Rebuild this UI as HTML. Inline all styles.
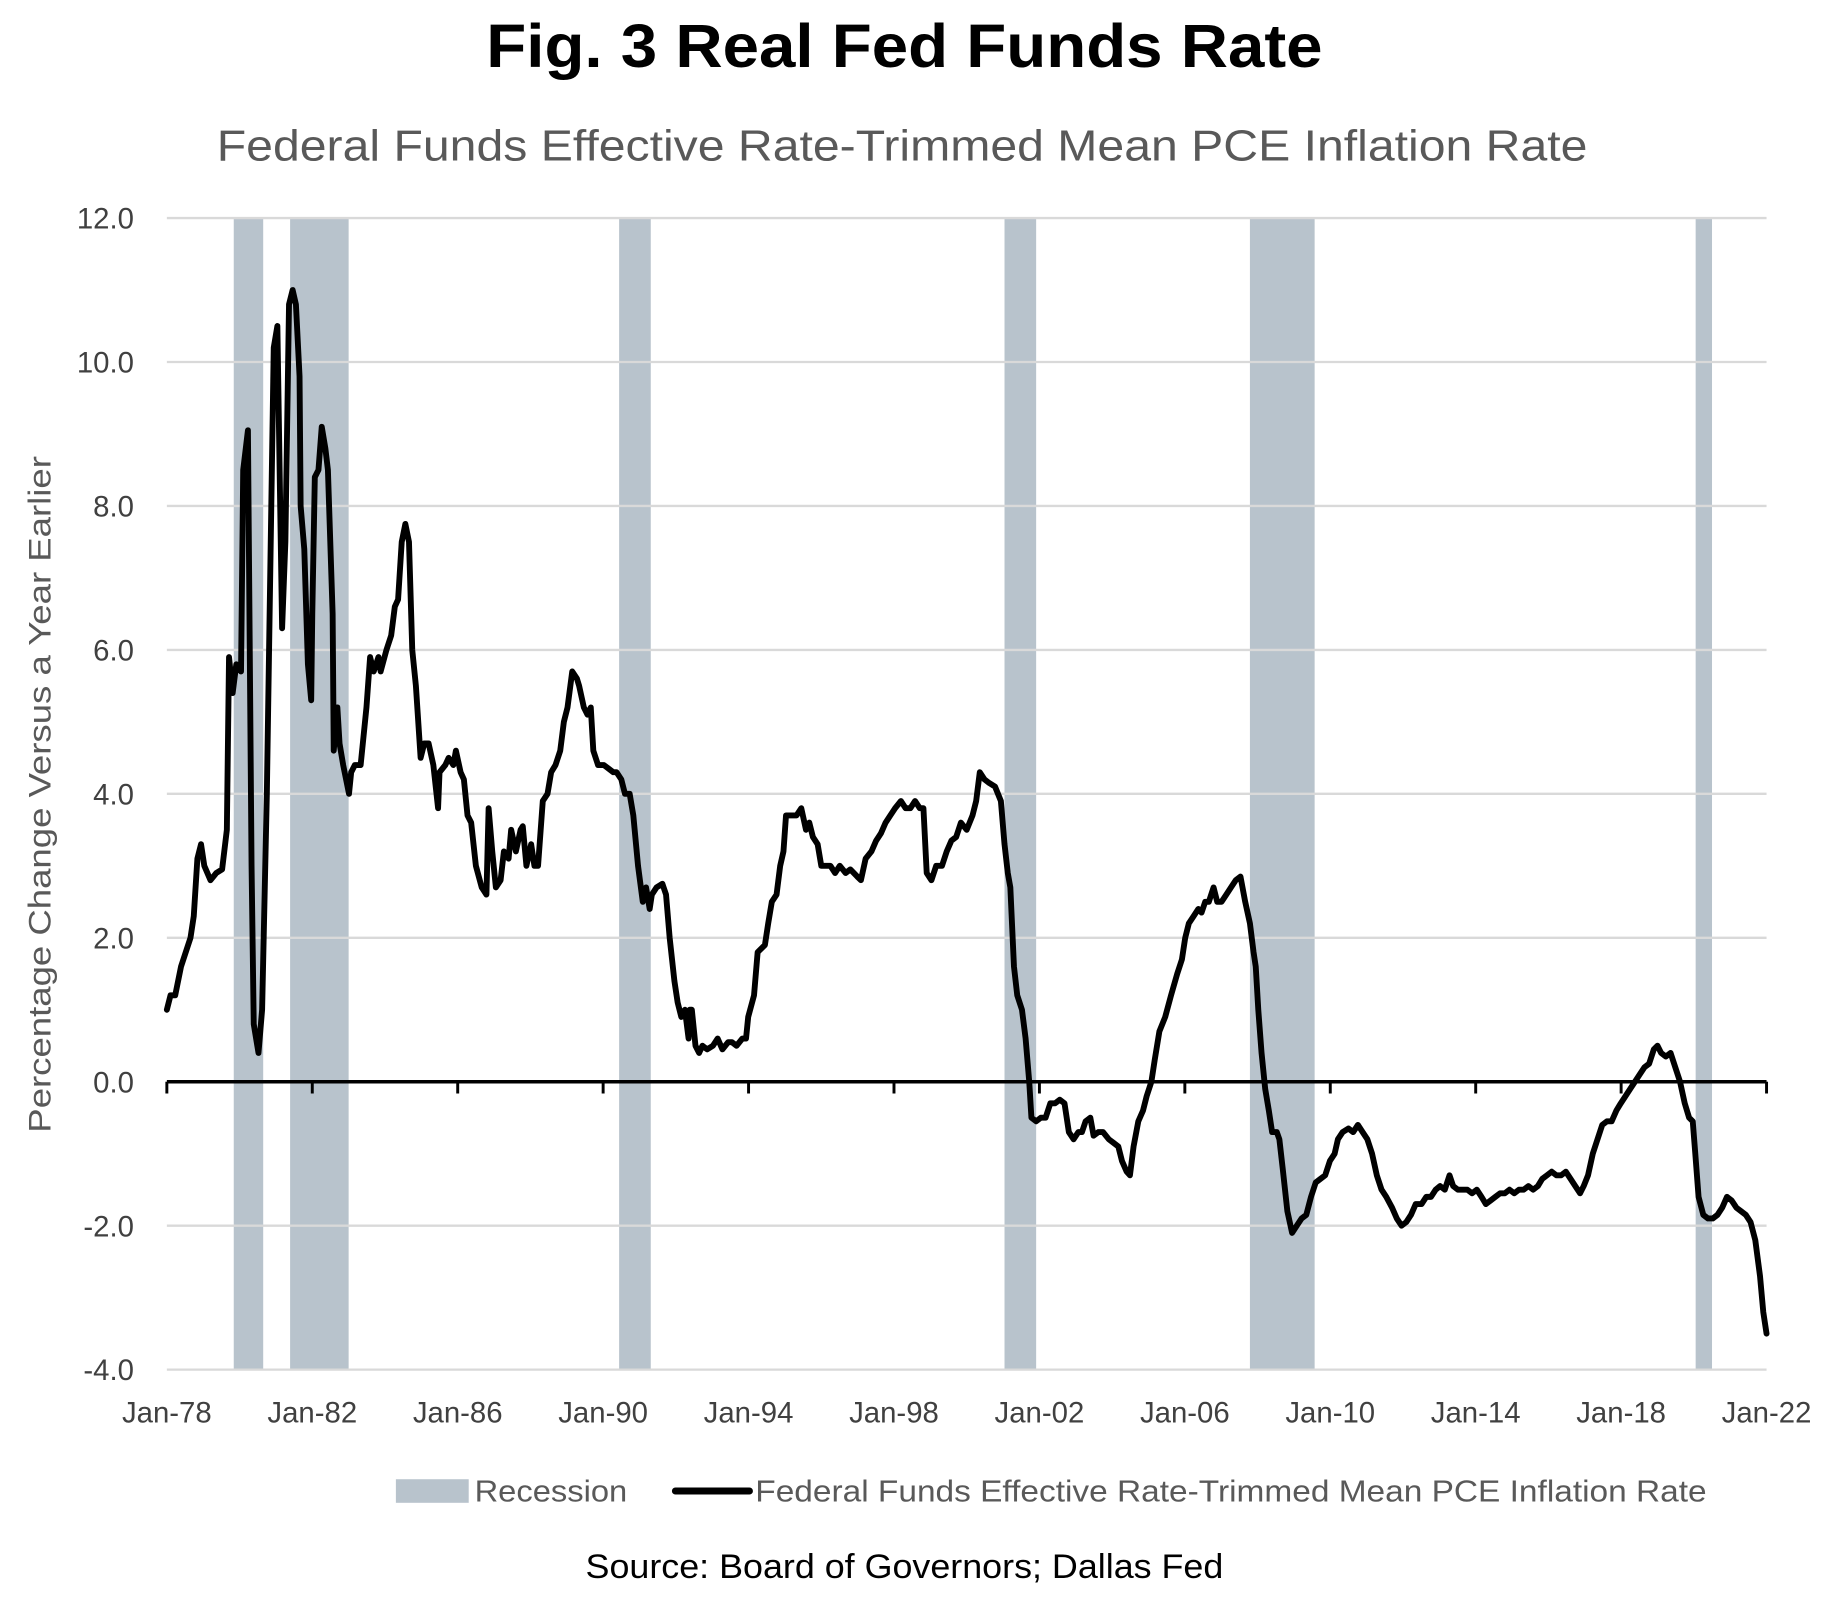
<!DOCTYPE html>
<html><head><meta charset="utf-8"><style>
html,body{margin:0;padding:0;background:#fff;}
svg{display:block;font-family:"Liberation Sans",sans-serif;}
</style></head><body>
<svg id="chart" width="1845" height="1602" viewBox="0 0 1552 1348" xmlns="http://www.w3.org/2000/svg">
<rect x="0" y="0" width="1552" height="1348" fill="#fff"/>
<g transform="translate(1.8,-1) scale(0.9883,0.9918)">
<text x="768" y="58" text-anchor="middle" font-size="52" font-weight="bold" fill="#000" textLength="712" lengthAdjust="spacingAndGlyphs">Fig. 3 Real Fed Funds Rate</text>
<text x="766" y="137" text-anchor="middle" font-size="37" fill="#595959" textLength="1167" lengthAdjust="spacingAndGlyphs">Federal Funds Effective Rate-Trimmed Mean PCE Inflation Rate</text>
<text transform="translate(41,675) rotate(-90)" text-anchor="middle" font-size="27" fill="#595959" textLength="574" lengthAdjust="spacingAndGlyphs">Percentage Change Versus a Year Earlier</text>
<g id="recessions"></g>
<g id="grid"></g>
<g id="zero"></g>
<g id="series"></g>
<g id="labels"></g>
<g>
<rect x="335" y="1256" width="62" height="20" fill="#b8c3cc"/>
<text x="402" y="1275" font-size="26" fill="#595959" textLength="130" lengthAdjust="spacingAndGlyphs">Recession</text>
<line x1="573" y1="1266" x2="636" y2="1266" stroke="#000" stroke-width="6" stroke-linecap="round"/>
<text x="641" y="1275" font-size="26" fill="#595959" textLength="810" lengthAdjust="spacingAndGlyphs">Federal Funds Effective Rate-Trimmed Mean PCE Inflation Rate</text>
</g>
<text x="768" y="1340" text-anchor="middle" font-size="29" fill="#000" textLength="543" lengthAdjust="spacingAndGlyphs">Source: Board of Governors; Dallas Fed</text>
</g>
</svg>
<script>
const yTicks = [12, 10, 8, 6, 4, 2, 0, -2, -4];
const yTickLabels = ["12.0","10.0","8.0","6.0","4.0","2.0","0.0","-2.0","-4.0"];
const xTickYears = [1978,1982,1986,1990,1994,1998,2002,2006,2010,2014,2018,2022];
const xTickLabels = ["Jan-78","Jan-82","Jan-86","Jan-90","Jan-94","Jan-98","Jan-02","Jan-06","Jan-10","Jan-14","Jan-18","Jan-22"];
const recessionStarts = [1979.84, 1981.39, 1990.44, 2001.04, 2007.79, 2020.05];
const recessionEnds = [1980.65, 1983.0, 1991.31, 2001.91, 2009.57, 2020.5];
const dates = [1978.00,1978.10,1978.23,1978.39,1978.65,1978.74,1978.84,1978.94,1979.03,1979.20,1979.36,1979.52,1979.65,1979.71,1979.81,1979.91,1980.04,1980.10,1980.23,1980.33,1980.39,1980.52,1980.62,1980.75,1980.94,1981.04,1981.17,1981.26,1981.36,1981.46,1981.55,1981.65,1981.68,1981.78,1981.88,1981.97,1982.00,1982.07,1982.17,1982.26,1982.36,1982.43,1982.56,1982.59,1982.69,1982.75,1982.85,1983.01,1983.07,1983.17,1983.33,1983.49,1983.59,1983.69,1983.82,1983.88,1984.04,1984.17,1984.27,1984.36,1984.46,1984.56,1984.66,1984.75,1984.85,1984.98,1985.08,1985.20,1985.33,1985.46,1985.50,1985.66,1985.75,1985.88,1985.95,1986.08,1986.17,1986.27,1986.37,1986.50,1986.66,1986.79,1986.85,1986.95,1987.05,1987.18,1987.27,1987.40,1987.47,1987.60,1987.73,1987.79,1987.89,1988.02,1988.11,1988.21,1988.34,1988.47,1988.57,1988.69,1988.82,1988.92,1989.02,1989.15,1989.28,1989.34,1989.47,1989.57,1989.66,1989.73,1989.86,1990.02,1990.15,1990.28,1990.37,1990.50,1990.60,1990.73,1990.83,1990.96,1991.09,1991.18,1991.28,1991.34,1991.47,1991.63,1991.73,1991.83,1991.96,1992.05,1992.15,1992.25,1992.35,1992.38,1992.44,1992.54,1992.64,1992.73,1992.86,1993.02,1993.15,1993.28,1993.44,1993.54,1993.67,1993.83,1993.93,1993.99,1994.15,1994.25,1994.45,1994.54,1994.64,1994.77,1994.87,1994.96,1995.03,1995.19,1995.32,1995.45,1995.58,1995.67,1995.77,1995.90,1996.00,1996.09,1996.25,1996.38,1996.51,1996.67,1996.80,1996.99,1997.09,1997.22,1997.38,1997.51,1997.64,1997.77,1997.90,1998.03,1998.19,1998.32,1998.45,1998.58,1998.71,1998.81,1998.90,1999.03,1999.16,1999.32,1999.45,1999.58,1999.71,1999.84,2000.00,2000.16,2000.26,2000.36,2000.49,2000.62,2000.78,2000.94,2001.04,2001.13,2001.20,2001.30,2001.39,2001.52,2001.62,2001.72,2001.78,2001.91,2002.04,2002.17,2002.30,2002.43,2002.56,2002.69,2002.81,2002.94,2003.07,2003.17,2003.27,2003.40,2003.49,2003.62,2003.75,2003.91,2004.04,2004.17,2004.27,2004.40,2004.49,2004.59,2004.72,2004.85,2004.95,2005.08,2005.17,2005.30,2005.46,2005.62,2005.79,2005.92,2006.01,2006.11,2006.24,2006.37,2006.46,2006.56,2006.66,2006.79,2006.89,2007.01,2007.14,2007.27,2007.40,2007.53,2007.66,2007.79,2007.89,2007.95,2008.02,2008.11,2008.21,2008.31,2008.40,2008.53,2008.60,2008.69,2008.82,2008.95,2009.08,2009.21,2009.34,2009.47,2009.60,2009.73,2009.86,2009.99,2010.12,2010.21,2010.34,2010.50,2010.63,2010.76,2010.89,2011.02,2011.15,2011.28,2011.41,2011.54,2011.70,2011.83,2011.96,2012.09,2012.22,2012.35,2012.51,2012.64,2012.77,2012.90,2013.02,2013.15,2013.28,2013.38,2013.51,2013.64,2013.77,2013.90,2014.03,2014.16,2014.28,2014.41,2014.54,2014.67,2014.80,2014.93,2015.06,2015.19,2015.32,2015.45,2015.58,2015.71,2015.83,2015.96,2016.09,2016.22,2016.35,2016.48,2016.61,2016.74,2016.87,2016.97,2017.09,2017.22,2017.35,2017.48,2017.61,2017.74,2017.87,2017.99,2018.12,2018.25,2018.38,2018.51,2018.64,2018.77,2018.90,2019.00,2019.10,2019.23,2019.36,2019.49,2019.62,2019.75,2019.87,2019.97,2020.04,2020.13,2020.26,2020.39,2020.52,2020.65,2020.78,2020.91,2021.04,2021.17,2021.30,2021.43,2021.56,2021.69,2021.82,2021.91,2022.00];
const rates = [1.0,1.2,1.2,1.6,2.0,2.3,3.1,3.3,3.0,2.8,2.9,2.95,3.5,5.9,5.4,5.8,5.7,8.5,9.05,3.0,0.8,0.4,1.0,4.0,10.2,10.5,6.3,7.5,10.8,11.0,10.8,9.8,8.0,7.4,5.8,5.3,6.5,8.4,8.5,9.1,8.8,8.5,6.5,4.6,5.2,4.7,4.4,4.0,4.3,4.4,4.4,5.2,5.9,5.7,5.9,5.7,6.0,6.2,6.6,6.7,7.5,7.75,7.5,6.0,5.5,4.5,4.7,4.7,4.4,3.8,4.3,4.4,4.5,4.4,4.6,4.3,4.2,3.7,3.6,3.0,2.7,2.6,3.8,3.2,2.7,2.8,3.2,3.1,3.5,3.2,3.5,3.55,3.0,3.3,3.0,3.0,3.9,4.0,4.3,4.4,4.6,5.0,5.2,5.7,5.6,5.5,5.2,5.1,5.2,4.6,4.4,4.4,4.35,4.3,4.3,4.2,4.0,4.0,3.7,3.0,2.5,2.7,2.4,2.6,2.7,2.75,2.6,2.0,1.4,1.1,0.9,1.0,0.6,1.0,1.0,0.5,0.4,0.5,0.45,0.5,0.6,0.45,0.55,0.55,0.5,0.6,0.6,0.9,1.2,1.8,1.9,2.2,2.5,2.6,3.0,3.2,3.7,3.7,3.7,3.8,3.5,3.6,3.4,3.3,3.0,3.0,3.0,2.9,3.0,2.9,2.95,2.85,2.8,3.1,3.2,3.35,3.45,3.6,3.7,3.8,3.9,3.8,3.8,3.9,3.8,3.8,2.9,2.8,3.0,3.0,3.2,3.35,3.4,3.6,3.5,3.7,3.9,4.3,4.2,4.15,4.1,3.9,3.3,2.9,2.7,1.6,1.2,1.0,0.6,0.0,-0.5,-0.55,-0.5,-0.5,-0.3,-0.3,-0.25,-0.3,-0.7,-0.8,-0.7,-0.7,-0.55,-0.5,-0.75,-0.7,-0.7,-0.8,-0.85,-0.9,-1.1,-1.25,-1.3,-0.9,-0.55,-0.4,-0.2,0.0,0.3,0.7,0.9,1.2,1.5,1.7,2.0,2.2,2.3,2.4,2.35,2.5,2.5,2.7,2.5,2.5,2.6,2.7,2.8,2.85,2.5,2.2,1.8,1.6,1.0,0.4,-0.1,-0.4,-0.7,-0.7,-0.8,-1.2,-1.8,-2.1,-2.0,-1.9,-1.85,-1.6,-1.4,-1.35,-1.3,-1.1,-1.0,-0.8,-0.7,-0.65,-0.7,-0.6,-0.7,-0.8,-1.0,-1.3,-1.5,-1.6,-1.75,-1.9,-2.0,-1.95,-1.85,-1.7,-1.7,-1.6,-1.6,-1.5,-1.45,-1.5,-1.3,-1.45,-1.5,-1.5,-1.5,-1.55,-1.5,-1.6,-1.7,-1.65,-1.6,-1.55,-1.55,-1.5,-1.55,-1.5,-1.5,-1.45,-1.5,-1.45,-1.35,-1.3,-1.25,-1.3,-1.3,-1.25,-1.35,-1.45,-1.55,-1.45,-1.3,-1.0,-0.8,-0.6,-0.55,-0.55,-0.4,-0.3,-0.2,-0.1,0.0,0.1,0.2,0.25,0.45,0.5,0.4,0.35,0.4,0.2,0.0,-0.3,-0.5,-0.55,-1.0,-1.6,-1.85,-1.9,-1.9,-1.85,-1.75,-1.6,-1.65,-1.75,-1.8,-1.85,-1.95,-2.2,-2.7,-3.2,-3.5];

const NS = "http://www.w3.org/2000/svg";
const X0 = 140, X1 = 1502, Y0 = 186, Y1 = 1163;
const xMin = 1978, xMax = 2022, yMin = -4, yMax = 12;
function xs(v){ return X0 + (v - xMin) / (xMax - xMin) * (X1 - X0); }
function ys(v){ return Y1 - (v - yMin) / (yMax - yMin) * (Y1 - Y0); }
function mk(tag, attrs, parent){ const e = document.createElementNS(NS, tag); for (const k in attrs) e.setAttribute(k, attrs[k]); parent.appendChild(e); return e; }

const gRec = document.getElementById('recessions');
recessionStarts.forEach((s, i) => {
  const r = mk('rect', {x: xs(s), y: Y0, width: xs(recessionEnds[i]) - xs(s), height: Y1 - Y0, fill: '#b8c3cc'}, gRec);
  
  
});

const gGrid = document.getElementById('grid');
const gLab = document.getElementById('labels');
yTicks.forEach((t, i) => {
  if (t !== 0) {
    const l = mk('line', {x1: X0, x2: X1, y1: ys(t), y2: ys(t), stroke: '#d9d9d9', 'stroke-width': 2}, gGrid);
    
    
  }
  const tx = mk('text', {x: 112, y: ys(t) + 9, 'text-anchor': 'end', 'font-size': 25, fill: '#404040'}, gLab);
  tx.textContent = yTickLabels[i];
  
  
});

const gZero = document.getElementById('zero');
const zl = mk('line', {x1: X0, x2: X1, y1: ys(0), y2: ys(0), stroke: '#000', 'stroke-width': 3}, gZero);


xTickYears.forEach((yr, i) => {
  const tk = mk('line', {x1: xs(yr), x2: xs(yr), y1: ys(0), y2: ys(0) + 10, stroke: '#000', 'stroke-width': 2.5}, gZero);
  
  
  const tx = mk('text', {x: xs(yr), y: 1208, 'text-anchor': 'middle', 'font-size': 25, fill: '#404040'}, gLab);
  tx.textContent = xTickLabels[i];
  
  
});

const gSer = document.getElementById('series');
let d = '';
dates.forEach((t, i) => { d += (i ? 'L' : 'M') + xs(t).toFixed(2) + ' ' + ys(rates[i]).toFixed(2); });
const p = mk('path', {d: d, fill: 'none', stroke: '#000', 'stroke-width': 5, 'stroke-linejoin': 'round', 'stroke-linecap': 'round'}, gSer);


</script>
</body></html>
